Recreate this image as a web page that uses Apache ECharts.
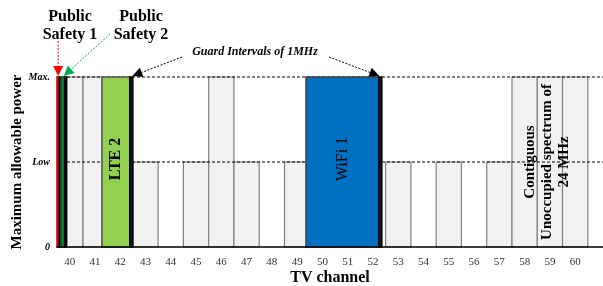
<!DOCTYPE html>
<html>
<head>
<meta charset="utf-8">
<script src="https://cdn.jsdelivr.net/npm/echarts@6/dist/echarts.min.js"></script>
<style>
  html, body { margin: 0; padding: 0; background: #fff; }
  #main { width: 603px; height: 286px; }
</style>
</head>
<body>
<div id="main"></div>
<script>
// tick labels
const channels = ['40', '41', '42', '43', '44', '45', '46', '47', '48', '49', '50',
    '51', '52', '53', '54', '55', '56', '57', '58', '59', '60'];
const levelLabels = ['0', 'Low', 'Max.'];

// channel bars (x in channel widths from the left edge of ch 40, level 0/1/2)
const grayStart = [0.38, 1.03, 3, 5, 6, 7, 9, 13, 15, 17, 18, 19, 20];
const grayEnd = [1.03, 1.78, 4, 6, 7, 8, 10, 14, 16, 18, 19, 20, 21];
const grayLevel = [2, 2, 1, 1, 2, 1, 1, 1, 1, 1, 2, 2, 2];

// occupied bands
const bandName = ['Public Safety 1', 'Guard', 'Public Safety 2', 'Guard', 'LTE 2', 'Guard', 'WiFi 1', 'Guard'];
const bandStart = [0, 0.09, 0.16, 0.3, 1.78, 2.88, 9.85, 12.73];
const bandEnd = [0.09, 0.16, 0.3, 0.38, 2.88, 3, 12.73, 12.85];
const bandLevel = [2, 2, 2, 2, 2, 2, 2, 2];

// free block 58-60
const freeStart = 18, freeEnd = 21;
const freeText = ['Contiguous', 'Unoccupied spectrum of', '24 MHz'];

const dashLevels = [1, 2];

const FONT = '"Liberation Serif", "Times New Roman", serif';

const bandStyle = {
    'Public Safety 1': {fill: '#ff0000', stroke: '#d00000', label: false},
    'Public Safety 2': {fill: '#16873a', stroke: '#0c5a25', label: false},
    'Guard': {fill: '#1a1a1a', stroke: '#000000', label: false},
    'LTE 2': {fill: '#92d050', stroke: '#555555', label: true, weight: 'bold'},
    'WiFi 1': {fill: '#0070c0', stroke: '#404040', label: true, weight: 'normal'}
};

function rectOf(api) {
    const p0 = api.coord([api.value(0), api.value(2)]);
    const p1 = api.coord([api.value(1), 0]);
    return {x: p0[0], y: p0[1], width: p1[0] - p0[0], height: p1[1] - p0[1]};
}

const option = {
    animation: false,
    backgroundColor: '#fff',
    grid: {left: 57, right: 0, top: 77, bottom: 39, containLabel: false, outerBoundsMode: 'none'},
    xAxis: {
        type: 'value',
        z: 10,
        min: 0,
        max: 21.6,
        interval: 0.5,
        name: 'TV channel',
        nameLocation: 'middle',
        nameGap: 23,
        nameMoveOverlap: false,
        nameTextStyle: {fontFamily: FONT, fontWeight: 'bold', fontSize: 16, color: '#000'},
        axisLine: {lineStyle: {color: '#000', width: 1.5}},
        axisTick: {show: false},
        splitLine: {show: false},
        axisLabel: {
            margin: 10,
            fontFamily: FONT,
            fontSize: 11,
            color: '#333',
            showMaxLabel: false,
            formatter: function (v) {
                const k = Math.round(v * 2);
                if (k % 2 === 1) {
                    return channels[(k - 1) / 2] || '';
                }
                return '';
            }
        }
    },
    yAxis: {
        type: 'value',
        min: 0,
        max: 2,
        interval: 1,
        name: 'Maximum allowable power',
        nameLocation: 'middle',
        nameGap: 32,
        nameMoveOverlap: false,
        nameTextStyle: {fontFamily: FONT, fontWeight: 'bold', fontSize: 15, color: '#000'},
        axisLine: {show: false},
        axisTick: {show: false},
        splitLine: {show: false},
        axisLabel: {
            margin: 7,
            fontFamily: FONT,
            fontSize: 10,
            fontStyle: 'italic',
            fontWeight: 'bold',
            color: '#000',
            formatter: function (v) {
                return levelLabels[v];
            }
        }
    },
    series: [
        {
            type: 'custom',
            z: 1,
            data: grayStart.map((s, i) => [s, grayEnd[i], grayLevel[i]]),
            encode: {x: [0, 1], y: 2},
            renderItem: function (params, api) {
                return {
                    type: 'rect',
                    shape: rectOf(api),
                    style: {fill: '#f1f1f1', stroke: '#808080', lineWidth: 1.2}
                };
            }
        },
        {
            type: 'custom',
            z: 2,
            data: dashLevels.map(v => [v]),
            renderItem: function (params, api) {
                const a = api.coord([0, api.value(0)]);
                const b = api.coord([21.6, api.value(0)]);
                return {
                    type: 'line',
                    shape: {x1: a[0], y1: a[1], x2: b[0], y2: b[1]},
                    style: {stroke: '#000', lineWidth: 1, lineDash: [3, 2]}
                };
            }
        },
        {
            type: 'custom',
            z: 3,
            data: bandStart.map((s, i) => [s, bandEnd[i], bandLevel[i], i]),
            encode: {x: [0, 1], y: 2},
            renderItem: function (params, api) {
                const name = bandName[api.value(3)];
                const st = bandStyle[name];
                const r = rectOf(api);
                const children = [{
                    type: 'rect',
                    shape: r,
                    style: {fill: st.fill, stroke: st.stroke, lineWidth: 1.5}
                }];
                if (st.label) {
                    children.push({
                        type: 'text',
                        x: r.x + r.width / 2,
                        y: r.y + r.height / 2 - 3,
                        rotation: Math.PI / 2,
                        style: {
                            text: name,
                            fontFamily: FONT,
                            fontSize: 16,
                            fontWeight: st.weight,
                            fill: '#000',
                            align: 'center',
                            verticalAlign: 'middle'
                        }
                    });
                }
                return {type: 'group', children: children};
            }
        }
    ]
};

const chart = echarts.init(document.getElementById('main'));
chart.setOption(option);

function px(x, y) {
    return chart.convertToPixel({xAxisIndex: 0, yAxisIndex: 0}, [x, y]);
}

function arrow(tail, tip, color) {
    const dx = tip[0] - tail[0], dy = tip[1] - tail[1];
    const len = Math.sqrt(dx * dx + dy * dy);
    const ux = dx / len, uy = dy / len;
    const head = 10, hw = 5;
    const bx = tip[0] - ux * head, by = tip[1] - uy * head;
    return {
        type: 'group',
        children: [
            {
                type: 'line',
                shape: {x1: tail[0], y1: tail[1], x2: bx, y2: by},
                style: {stroke: color, lineWidth: 1, lineDash: [2, 1.5]}
            },
            {
                type: 'polygon',
                shape: {points: [tip, [bx - uy * hw, by + ux * hw], [bx + uy * hw, by - ux * hw]]},
                style: {fill: color}
            }
        ]
    };
}

const ps1 = px((bandStart[0] + bandEnd[0]) / 2, 2);
const ps2 = px((bandStart[2] + bandEnd[2]) / 2, 2);
const g1 = px((bandStart[5] + bandEnd[5]) / 2, 2);
const g2 = px((bandStart[7] + bandEnd[7]) / 2, 2);
const free = px((freeStart + freeEnd) / 2, 1);

const titleStyle = {fontFamily: FONT, fontSize: 16, fontWeight: 'bold', fill: '#000', align: 'center', lineHeight: 18};

chart.setOption({
    graphic: [
        {type: 'text', x: 70, y: 8, style: Object.assign({text: 'Public\nSafety 1'}, titleStyle)},
        {type: 'text', x: 141, y: 8, style: Object.assign({text: 'Public\nSafety 2'}, titleStyle)},
        {
            type: 'text', x: 255, y: 52,
            style: {
                text: 'Guard Intervals of 1MHz', fontFamily: FONT, fontSize: 12, fontWeight: 'bold',
                fontStyle: 'italic', fill: '#000', align: 'center', verticalAlign: 'middle'
            }
        },
        arrow([ps1[0], 41], [ps1[0], ps1[1] - 1], '#ff0000'),
        arrow([110, 34], [ps2[0] + 1, ps2[1] - 1], '#00b050'),
        arrow([182, 57], [g1[0] + 1, g1[1] - 1], '#000'),
        arrow([329, 57], [g2[0] - 1, g2[1] - 1], '#000'),
        {
            type: 'text', x: free[0] - 3, y: free[1], rotation: Math.PI / 2, z: 10,
            style: {
                text: freeText.join('\n'), fontFamily: FONT, fontSize: 15, fontWeight: 'bold',
                fill: '#000', align: 'center', verticalAlign: 'middle', lineHeight: 17
            }
        }
    ]
});
</script>
</body>
</html>
